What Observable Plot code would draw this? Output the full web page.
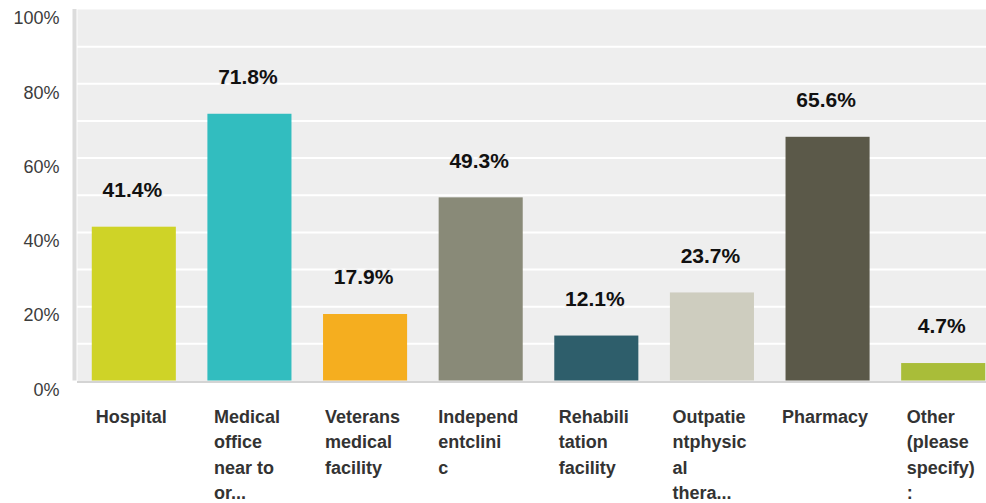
<!DOCTYPE html>
<html>
<head>
<meta charset="utf-8">
<script src="https://cdn.jsdelivr.net/npm/d3@7"></script>
<script src="https://cdn.jsdelivr.net/npm/@observablehq/plot@0.6"></script>
<style>
  html, body { margin: 0; padding: 0; background: #fff; overflow: hidden; }
</style>
</head>
<body>
<div id="chart"></div>
<script>
const categories = ["Hospital", "Medical office near to or...", "Veterans medical facility", "Independentclinic", "Rehabilitation facility", "Outpatientphysical thera...", "Pharmacy", "Other (please specify):"];
const labelLines = ["Hospital", "Medical\noffice\nnear to\nor...", "Veterans\nmedical\nfacility", "Independ\nentclini\nc", "Rehabili\ntation\nfacility", "Outpatie\nntphysic\nal\nthera...", "Pharmacy", "Other\n(please\nspecify)\n:"];
const values = [41.4, 71.8, 17.9, 49.3, 12.1, 23.7, 65.6, 4.7];
const colors = ["#cfd327", "#32bdbf", "#f5ae1f", "#898a78", "#2e5e6b", "#cecdbf", "#5b5949", "#a9bd39"];
const yTicks = [0, 20, 40, 60, 80, 100];
const gridTicks = [10, 20, 30, 40, 50, 60, 70, 80, 90];

const data = categories.map((c, i) => ({category: c, label: labelLines[i], value: values[i], color: colors[i]}));

const W = 986, H = 503;
const xRange = [76, 1001];
const padInner = 0.273, padOuter = 0.1365;
const step = (xRange[1] - xRange[0]) / categories.length;
const firstCenter = xRange[0] + padOuter * step + (1 - padInner) * step / 2;
const leftLineDx = (xRange[0] - 1) - firstCenter;

const font = "'Liberation Sans', Arial, Helvetica, sans-serif";

const chart = Plot.plot({
  width: W,
  height: H,
  marginLeft: 77,
  marginRight: 0,
  marginTop: 9,
  marginBottom: 122,
  style: {background: "white", fontFamily: font, overflow: "hidden"},
  x: {type: "band", domain: categories, range: xRange, paddingInner: padInner, paddingOuter: padOuter, round: false, axis: null},
  y: {domain: [0, 100], range: [380.5, 9], axis: null},
  marks: [
    Plot.frame({fill: "#eeeeee", stroke: null}),
    Plot.ruleY(gridTicks, {stroke: "white", strokeWidth: 2}),
    Plot.text(data, {x: "category", y: "value", text: d => d.value.toFixed(1) + "%", dx: -2, dy: -37, fontSize: 21, fontWeight: "bold", fill: "#111", stroke: "#eeeeee", strokeWidth: 3}),
    Plot.barY(data, {x: "category", y: "value", fill: "color"}),
    Plot.ruleY([0], {stroke: "#d4d4d4", strokeWidth: 2, dy: 1}),
    Plot.ruleX([categories[0]], {y1: 0, y2: 100, stroke: "#dcdcdc", strokeWidth: 4, dx: leftLineDx - 1}),
    Plot.text(yTicks, {y: d => d, text: d => d + "%", frameAnchor: "left", textAnchor: "end", dx: -18, dy: 9, fontSize: 18, fill: "#3c3c3c"}),
    Plot.text(data, {x: "category", text: "label", frameAnchor: "bottom", lineAnchor: "top", textAnchor: "start", dx: -3, dy: 23, lineHeight: 1.417, fontSize: 18, fontWeight: "bold", fill: "#333", ariaLabel: () => "category-label"})
  ]
});

document.getElementById("chart").appendChild(chart);

// center each multi-line label block on its band (lines stay left-aligned within the block)
chart.querySelectorAll('text[aria-label="category-label"], [aria-label="category-label"] text').forEach(t => {
  const w = t.getBBox().width;
  const tr = t.getAttribute("transform") || "";
  t.setAttribute("transform", (tr + ` translate(${-w / 2},0)`).trim());
});
</script>
</body>
</html>
